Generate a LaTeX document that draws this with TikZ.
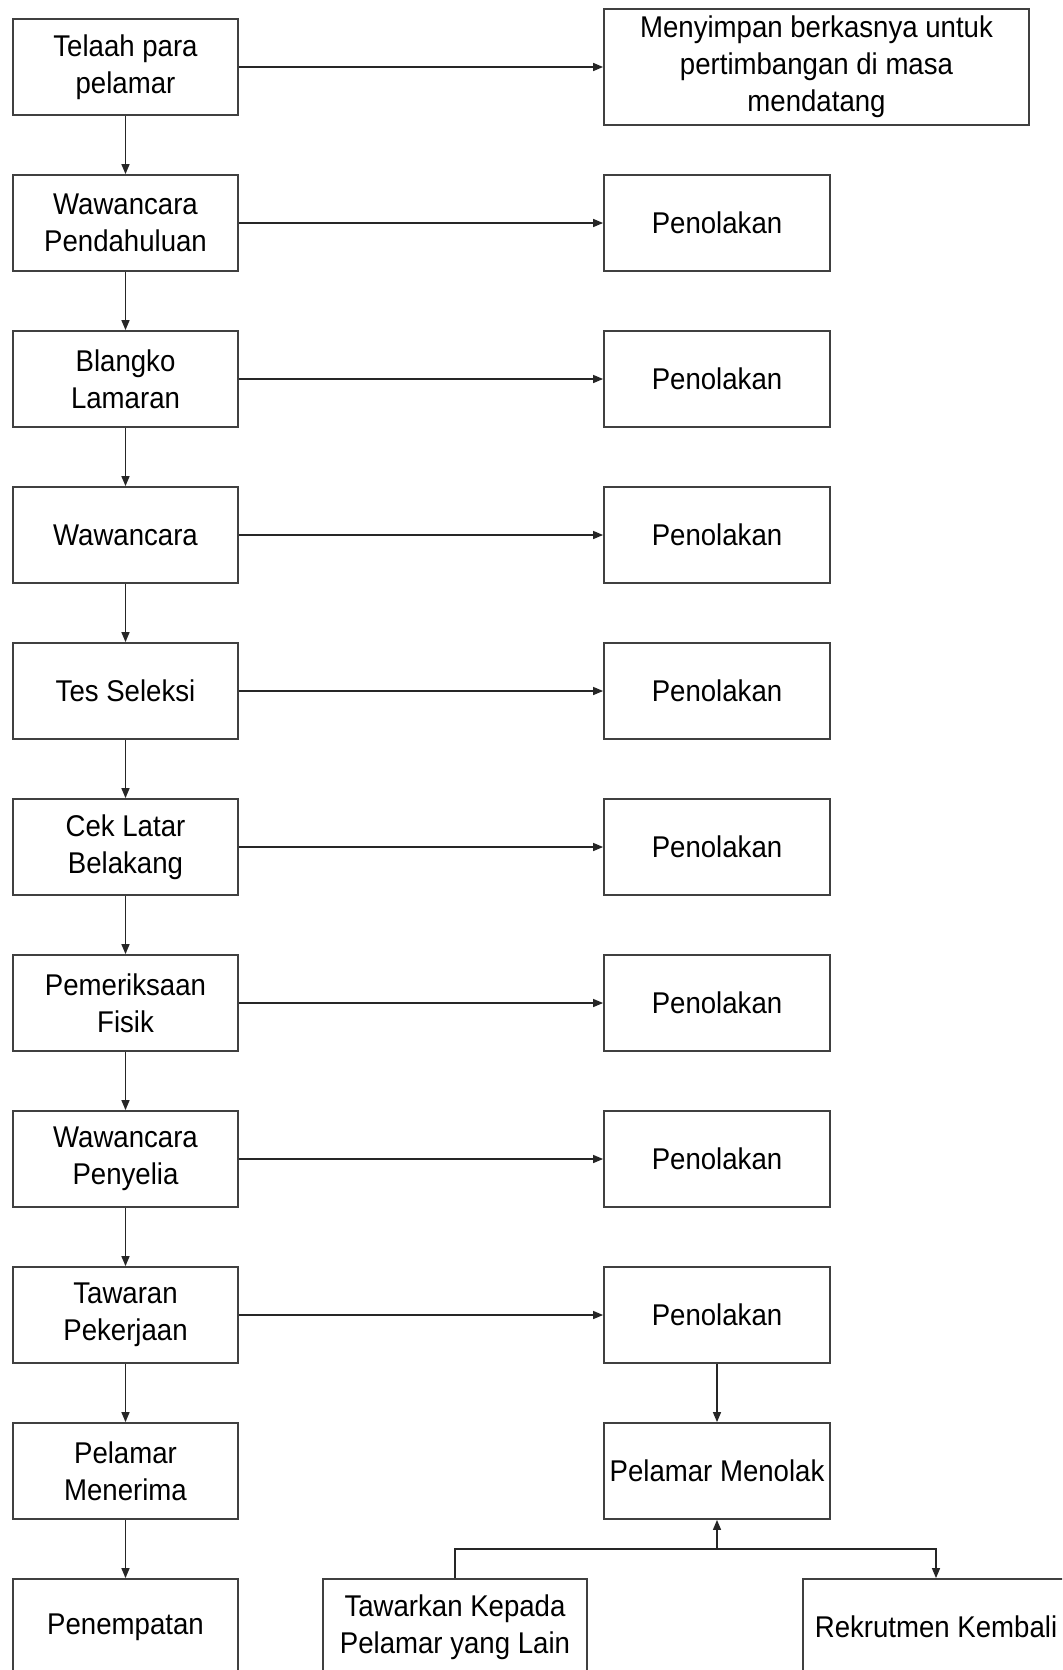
\documentclass[tikz,border=0pt]{standalone}
\usepackage{fontspec}
\setmainfont{Liberation Sans}[FakeStretch=0.92]
\usetikzlibrary{arrows.meta}
\begin{document}
\begin{tikzpicture}[x=0.5pt,y=-0.5pt,
  box/.style={draw=black!75,line width=0.9pt,fill=white,align=center,inner sep=0pt,
    font=\fontsize{15}{18.5}\selectfont},
  lbox/.style={box,minimum width=112.8pt,minimum height=48pt},
  rbox/.style={box,minimum width=113pt,minimum height=48pt},
  arr/.style={draw=black!85,line width=0.7pt,-{Triangle[length=5pt,width=4pt]}},
  ln/.style={draw=black!85,line width=0.7pt}]
\clip (0,0) rectangle (1062,1670);
\fill[white] (0,0) rectangle (1062,1670);
% left column
\node[lbox] (l0) at (125.5,67) {Telaah para\\pelamar};
\node[lbox] (l1) at (125.5,223) {Wawancara\\Pendahuluan};
\node[lbox] (l2) at (125.5,379) {Blangko\\Lamaran};
\node[lbox] (l3) at (125.5,535) {Wawancara};
\node[lbox] (l4) at (125.5,691) {Tes Seleksi};
\node[lbox] (l5) at (125.5,847) {Cek Latar\\Belakang};
\node[lbox] (l6) at (125.5,1003) {Pemeriksaan\\Fisik};
\node[lbox] (l7) at (125.5,1159) {Wawancara\\Penyelia};
\node[lbox] (l8) at (125.5,1315) {Tawaran\\Pekerjaan};
\node[lbox] (l9) at (125.5,1471) {Pelamar\\Menerima};
\node[lbox] (l10) at (125.5,1627) {Penempatan};
% right column
\node[box,minimum width=212.5pt,minimum height=58pt] (r0) at (816.5,67) {Menyimpan berkasnya untuk\\pertimbangan di masa\\mendatang};
\node[rbox] (r1) at (717,223) {Penolakan};
\node[rbox] (r2) at (717,379) {Penolakan};
\node[rbox] (r3) at (717,535) {Penolakan};
\node[rbox] (r4) at (717,691) {Penolakan};
\node[rbox] (r5) at (717,847) {Penolakan};
\node[rbox] (r6) at (717,1003) {Penolakan};
\node[rbox] (r7) at (717,1159) {Penolakan};
\node[rbox] (r8) at (717,1315) {Penolakan};
\node[rbox] (r9) at (717,1471) {Pelamar Menolak};
\node[box,minimum width=132pt,minimum height=48pt] (t) at (455,1627) {Tawarkan Kepada\\Pelamar yang Lain};
\node[box,minimum width=133pt,minimum height=48pt] (k) at (936,1627) {Rekrutmen Kembali};
% vertical arrows left
\foreach \a/\b in {l0/l1,l1/l2,l2/l3,l3/l4,l4/l5,l5/l6,l6/l7,l7/l8,l8/l9,l9/l10}
  \draw[arr] (\a.south) -- (\b.north);
% horizontal arrows
\foreach \i in {0,...,8}
  \draw[arr] (l\i.east) -- (r\i.west);
\draw[arr] (r8.south) -- (r9.north);
\coordinate (j) at (717,1549);
\draw[ln] (t.north) |- (j);
\draw[arr] (j) -- (r9.south);
\draw[arr] (j) -| (k.north);
\end{tikzpicture}
\end{document}
